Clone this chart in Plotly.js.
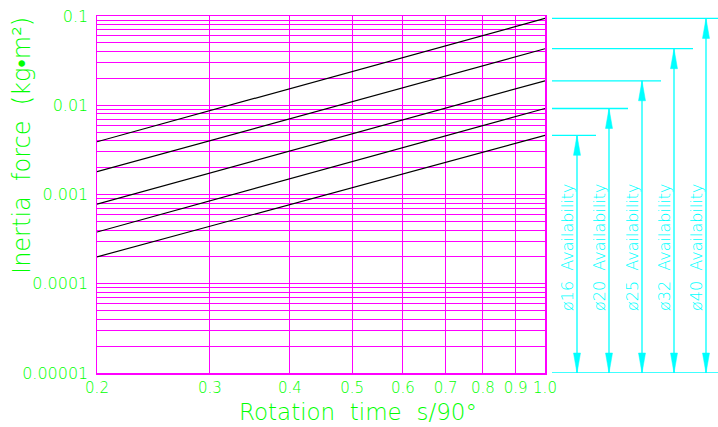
<!DOCTYPE html>
<html><head><meta charset="utf-8">
<script src="https://cdn.plot.ly/plotly-3.0.1.min.js"></script>
<style>html,body{margin:0;padding:0;background:#fff;}#chart{width:718px;height:427px;}</style>
</head><body><div id="chart"></div>
<script>
// ---- data ----
const rotationTime = [0.2, 1.0];
const sizeLabels = ['ø16', 'ø20', 'ø25', 'ø32', 'ø40'];
const inertia16 = [0.0002, 0.0046];
const inertia20 = [0.00038, 0.0092];
const inertia25 = [0.00078, 0.0188];
const inertia32 = [0.0018, 0.043];
const inertia40 = [0.0039, 0.094];
const xTickVals = [0.2, 0.3, 0.4, 0.5, 0.6, 0.7, 0.8, 0.9, 1.0];
const xTickText = ['0.2', '0.3', '0.4', '0.5', '0.6', '0.7', '0.8', '0.9', '1.0'];
const yDecades = [0.00001, 0.0001, 0.001, 0.01, 0.1];
const yDecadeLabels = ['0.00001', '0.0001', '0.001', '0.01', '0.1'];
const yGridSteps = [1, 2, 3, 4, 5, 6, 7, 8, 9];
const availabilityText = 'Availability';

// ---- styles ----
const GREEN = '#00ff00', MAGENTA = '#ff00ff', CYAN = '#00ffff';
const FONT = 'DejaVu Sans, Liberation Sans, sans-serif';
const series = [inertia16, inertia20, inertia25, inertia32, inertia40];

// y grid/tick values
const yTickVals = [], yTickText = [];
yDecades.forEach((d, i) => {
  if (i === yDecades.length - 1) { yTickVals.push(d); yTickText.push(yDecadeLabels[i]); return; }
  yGridSteps.forEach(s => { yTickVals.push(d * s); yTickText.push(s === 1 ? yDecadeLabels[i] : ''); });
});

const traces = series.map((s, i) => ({
  x: rotationTime, y: s, type: 'scatter', mode: 'lines',
  line: {color: '#000000', width: 1.2}, name: sizeLabels[i],
  showlegend: false, hoverinfo: 'skip'
}));

// annotation geometry (paper units; plot spans 448 px wide)
const W = 448;
const px = p => (p - 97) / W;
const vLineX = [577, 609, 642, 674, 706].map(px);
const hLineEnd = [596, 628, 661, 693, 718].map(px);
const hStart = px(552);
const yMin = yDecades[0];

const shapes = [];
series.forEach((s, i) => {
  const top = s[s.length - 1];
  shapes.push({type: 'line', xref: 'paper', yref: 'y', x0: hStart, x1: hLineEnd[i], y0: top, y1: top, line: {color: CYAN, width: 1.3}});
  shapes.push({type: 'line', xref: 'paper', yref: 'y', x0: vLineX[i], x1: vLineX[i], y0: yMin, y1: top, line: {color: CYAN, width: 1.3}});
  shapes.push({type: 'path', xref: 'paper', yref: 'y', xsizemode: 'pixel', ysizemode: 'pixel',
    xanchor: vLineX[i], yanchor: top, path: 'M0,0 L-3.5,-20 L3.5,-20 Z', fillcolor: CYAN, line: {color: CYAN, width: 0.5}});
  shapes.push({type: 'path', xref: 'paper', yref: 'y', xsizemode: 'pixel', ysizemode: 'pixel',
    xanchor: vLineX[i], yanchor: yMin, path: 'M0,0 L-3.5,20 L3.5,20 Z', fillcolor: CYAN, line: {color: CYAN, width: 0.5}});
});
shapes.push({type: 'line', xref: 'paper', yref: 'y', x0: hStart, x1: px(718), y0: yMin, y1: yMin, line: {color: CYAN, width: 1.3}});

const annotations = sizeLabels.map((lab, i) => ({
  xref: 'paper', yref: 'paper', x: vLineX[i] - 9 / W, y: 0.353, xanchor: 'center', yanchor: 'middle',
  text: lab + '\u00a0\u00a0' + availabilityText, textangle: -90, showarrow: false,
  font: {family: FONT, size: 16, color: CYAN, weight: 200}
}));
annotations.push({
  xref: 'paper', yref: 'paper', x: px(358), y: -0.108, xanchor: 'center', yanchor: 'middle',
  text: 'Rotation\u00a0\u00a0time\u00a0\u00a0s/90°', showarrow: false,
  font: {family: FONT, size: 23, color: GREEN, weight: 200}
});
annotations.push({
  xref: 'paper', yref: 'paper', x: px(22), y: 0.636, xanchor: 'center', yanchor: 'middle',
  text: 'Inertia\u00a0\u00a0force\u00a0\u00a0(kg•m²)', textangle: -90, showarrow: false,
  font: {family: FONT, size: 24, color: GREEN, weight: 200}
});

const layout = {
  width: 718, height: 427,
  margin: {l: 97, r: 173, t: 16, b: 54},
  paper_bgcolor: '#ffffff', plot_bgcolor: '#ffffff',
  showlegend: false,
  xaxis: {
    type: 'log', range: [Math.log10(0.2), 0], tickmode: 'array', tickvals: xTickVals, ticktext: xTickText,
    showgrid: true, gridcolor: MAGENTA, gridwidth: 1, showline: true, linecolor: MAGENTA, linewidth: 1.5, mirror: true,
    ticks: '', zeroline: false, ticklabelstandoff: 0,
    tickfont: {family: FONT, size: 15, color: GREEN, weight: 200}
  },
  yaxis: {
    type: 'log', range: [-5, -1], tickmode: 'array', tickvals: yTickVals, ticktext: yTickText,
    showgrid: true, gridcolor: MAGENTA, gridwidth: 1, showline: true, linecolor: MAGENTA, linewidth: 1.5, mirror: true,
    ticks: '', zeroline: false, ticklabelstandoff: 4,
    tickfont: {family: FONT, size: 16, color: GREEN, weight: 200}
  },
  shapes: shapes,
  annotations: annotations
};

Plotly.newPlot('chart', traces, layout, {displayModeBar: false, staticPlot: true});
</script>
</body></html>
